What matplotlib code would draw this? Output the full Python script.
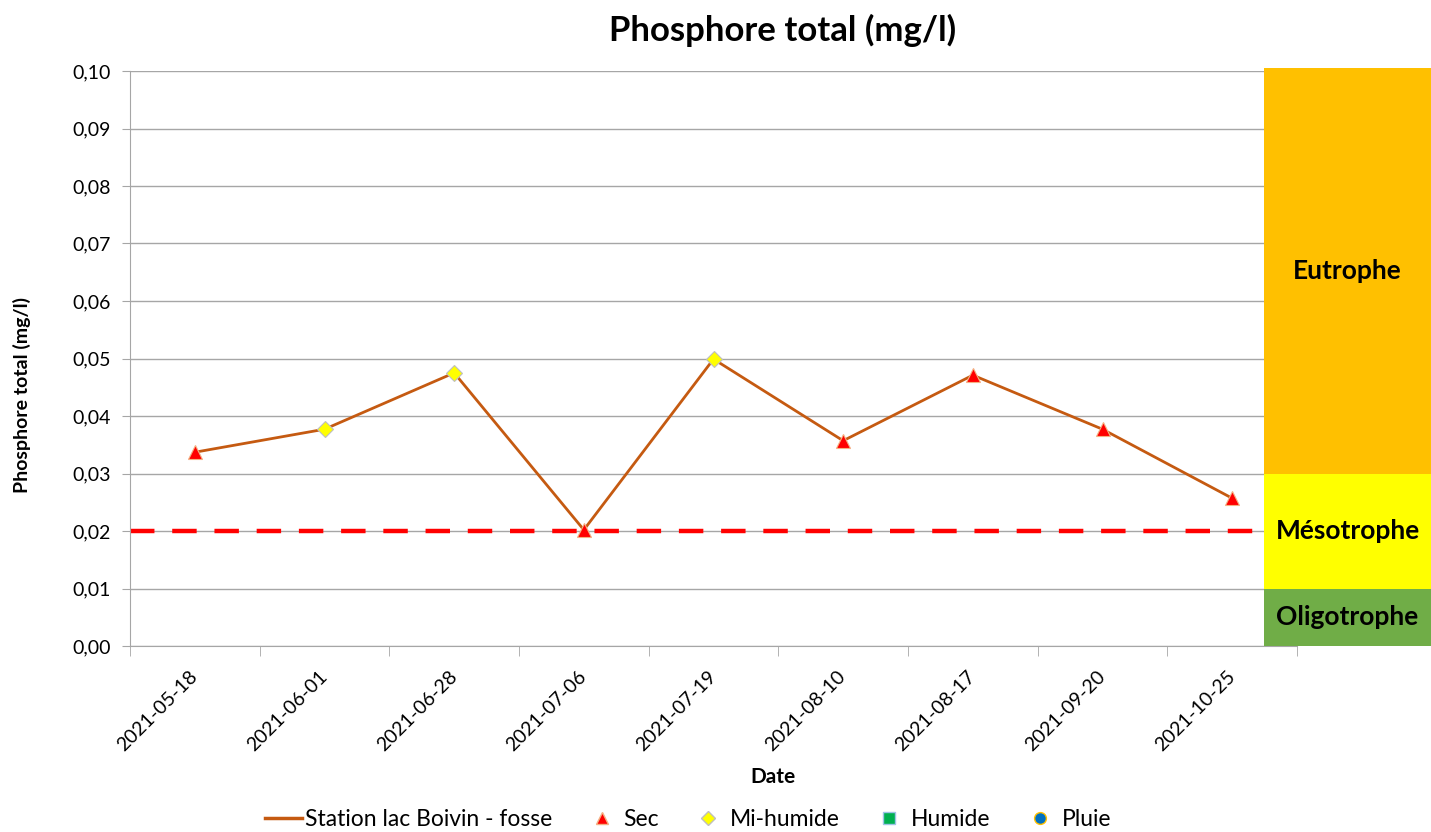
import matplotlib.pyplot as plt
from matplotlib.lines import Line2D

plt.rcParams['font.family'] = ['Lato', 'DejaVu Sans']

# données
dates = ['2021-05-18', '2021-06-01', '2021-06-28', '2021-07-06', '2021-07-19',
         '2021-08-10', '2021-08-17', '2021-09-20', '2021-10-25']
phosphore = [0.0337, 0.0377, 0.0475, 0.0202, 0.0499, 0.0357, 0.0471, 0.0377, 0.0257]
conditions = ['Sec', 'Mi-humide', 'Mi-humide', 'Sec', 'Mi-humide',
              'Sec', 'Sec', 'Sec', 'Sec']
seuil = 0.02

# classes trophiques
classes = ['Oligotrophe', 'Mésotrophe', 'Eutrophe']
classes_bas = [0.0, 0.01, 0.03]
classes_haut = [0.01, 0.03, 0.1005]
classes_couleurs = ['#70AD47', '#FFFF00', '#FFC000']

W, H = 1431, 832
fig = plt.figure(figsize=(W / 100, H / 100), dpi=100)

ax = fig.add_axes([130 / W, 1 - 646 / H, (1297 - 130) / W, (646 - 71) / H])
x = list(range(len(dates)))

ax.plot(x, phosphore, color='#C55A11', lw=2, zorder=3)
styles = {
    'Sec': dict(marker='^', color='#FF0000', mec='#F4B183', ms=10),
    'Mi-humide': dict(marker='D', color='#FFFF00', mec='#BFBFBF', ms=8),
}
for cond, st in styles.items():
    xs = [i for i, c in zip(x, conditions) if c == cond]
    ys = [v for v, c in zip(phosphore, conditions) if c == cond]
    ax.plot(xs, ys, ls='none', marker=st['marker'], mfc=st['color'],
            mec=st['mec'], mew=0.8, ms=st['ms'], zorder=4)

ax.axhline(seuil, color='#FF0000', lw=3.2, ls=(0, (5.5, 4)), zorder=2)

ax.set_xlim(-0.5, len(dates) - 0.5)
ax.set_ylim(0, 0.1)
ax.set_yticks([i / 100 for i in range(11)])
ax.set_yticklabels([f'{i / 100:.2f}'.replace('.', ',') for i in range(11)], fontsize=14)
ax.yaxis.grid(True, color='#A6A6A6', lw=1)
ax.set_axisbelow(True)

ax.set_xticks(x)
ax.set_xticklabels(dates, rotation=45, ha='right', va='center',
                   rotation_mode='anchor', fontsize=14)
ax.tick_params(axis='x', which='major', length=0, pad=20)
ax.set_xticks([i - 0.5 for i in range(len(dates) + 1)], minor=True)
ax.tick_params(axis='x', which='minor', length=7, color='#A6A6A6')
ax.tick_params(axis='y', length=6, color='#A6A6A6', pad=8)

for s in ['top', 'right']:
    ax.spines[s].set_visible(False)
for s in ['left', 'bottom']:
    ax.spines[s].set_color('#A6A6A6')

# bandes trophiques
bx = fig.add_axes([1264 / W, 1 - 646 / H, (1431 - 1264) / W, (646 - 71) / H])
bx.set_ylim(0, 0.1)
bx.set_xlim(0, 1)
bx.bar([0.5] * 3, [h - b for b, h in zip(classes_bas, classes_haut)], width=1,
       bottom=classes_bas, color=classes_couleurs, clip_on=False)
label_y = [0.005, 0.02, 0.0652]
for nom, yy in zip(classes, label_y):
    bx.text(0.5, yy, nom, ha='center', va='center', fontsize=19, fontweight='bold')
bx.axis('off')

fig.text(783 / W, 1 - 30 / H, 'Phosphore total (mg/l)', ha='center', va='center',
         fontsize=25, fontweight='bold')
fig.text(773 / W, 1 - 777 / H, 'Date', ha='center', va='center',
         fontsize=15, fontweight='bold')
fig.text(22 / W, 1 - 395 / H, 'Phosphore total (mg/l)', ha='center', va='center',
         rotation=90, fontsize=14, fontweight='bold')

handles = [
    Line2D([], [], color='#C55A11', lw=2.5),
    Line2D([], [], ls='none', marker='^', mfc='#FF0000', mec='#F4B183', ms=8.5),
    Line2D([], [], ls='none', marker='D', mfc='#FFFF00', mec='#BFBFBF', ms=7),
    Line2D([], [], ls='none', marker='s', mfc='#00B050', mec='#9DC3E6', ms=8),
    Line2D([], [], ls='none', marker='o', mfc='#0070C0', mec='#FFC000', ms=8.5),
]
labels = ['Station lac Boivin - fosse', 'Sec', 'Mi-humide', 'Humide', 'Pluie']
fig.legend(handles, labels, loc='center', bbox_to_anchor=(688 / W, 1 - 820 / H),
           ncol=5, frameon=False, fontsize=16.5, handlelength=1.6,
           columnspacing=1.35, handletextpad=0.15)

fig.savefig('out.png', dpi=100)
